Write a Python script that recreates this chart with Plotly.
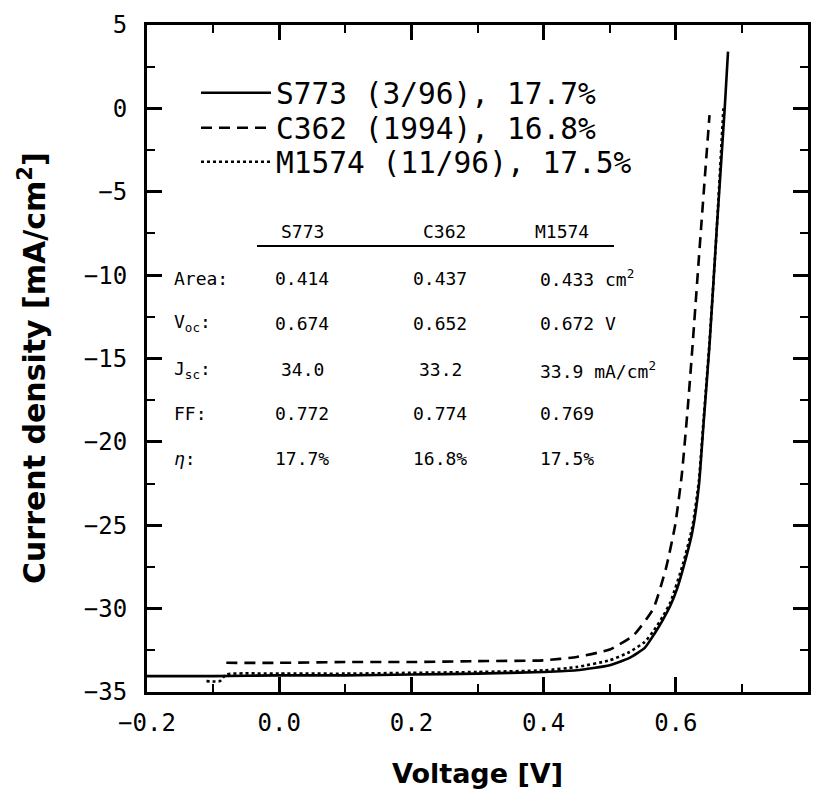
import plotly.graph_objects as go

# ---------------- data ----------------
s773_v = [-0.2, -0.1, 0.0, 0.1, 0.2, 0.3, 0.4, 0.45, 0.5, 0.53, 0.553, 0.567, 0.58, 0.592,
          0.602, 0.611, 0.625, 0.635, 0.642, 0.651, 0.662, 0.674, 0.679]
s773_j = [-34.05, -34.05, -34.0, -34.0, -33.95, -33.9, -33.8, -33.7, -33.4, -32.95, -32.35,
          -31.55, -30.7, -29.8, -28.8, -27.6, -25.4, -22.6, -18.9, -14.2, -7.2, 0.0, 3.4]

c362_v = [-0.08, 0.0, 0.1, 0.2, 0.3, 0.4, 0.45, 0.5, 0.536, 0.566, 0.585, 0.599, 0.609,
          0.618, 0.625, 0.638, 0.651]
c362_j = [-33.25, -33.25, -33.2, -33.2, -33.15, -33.1, -32.9, -32.45, -31.6, -30.0, -27.6,
          -25.0, -22.0, -18.0, -14.4, -7.3, -0.4]

m1574_v = [-0.11, -0.09, -0.08, 0.0, 0.1, 0.2, 0.3, 0.4, 0.45, 0.5, 0.53, 0.553, 0.567,
           0.58, 0.592, 0.611, 0.625, 0.635, 0.642, 0.651, 0.662, 0.672]
m1574_j = [-34.35, -34.35, -33.95, -33.9, -33.9, -33.85, -33.8, -33.7, -33.5, -33.1, -32.6,
           -32.0, -31.3, -30.5, -29.6, -27.3, -25.1, -22.3, -18.7, -14.0, -7.2, 0.0]

series_names = ["S773 (3/96), 17.7%", "C362 (1994), 16.8%", "M1574 (11/96), 17.5%"]

x_tickvals = [-0.2, 0.0, 0.2, 0.4, 0.6, 0.8]
x_ticktext = ["\u22120.2", "0.0", "0.2", "0.4", "0.6", "0.8"]
y_tickvals = [5, 0, -5, -10, -15, -20, -25, -30, -35]
y_ticktext = ["5", "0", "\u22125", "\u221210", "\u221215", "\u221220", "\u221225", "\u221230", "\u221235"]

table_cols = ["S773", "C362", "M1574"]
table_rows = ["Area:", "V<sub>oc</sub>:", "J<sub>sc</sub>:", "FF:", "<i>\u03b7</i>:"]
table_vals = [
    ["0.414", "0.437", "0.433 cm<sup>2</sup>"],
    ["0.674", "0.652", "0.672 V"],
    ["34.0", "33.2", "33.9 mA/cm<sup>2</sup>"],
    ["0.772", "0.774", "0.769"],
    ["17.7%", "16.8%", "17.5%"],
]

# ---------------- layout helpers ----------------
W_FIG, H_FIG = 828, 800
L, R, T, B = 147, 808, 25, 692
PW, PH = R - L, B - T


def px(x):
    return (x - L) / PW


def py(y):
    return (B - y) / PH


MONO = "DejaVu Sans Mono"
BOLD = "DejaVu Sans"

fig = go.Figure()
fig.add_trace(go.Scatter(x=s773_v, y=s773_j, mode="lines", name=series_names[0], legend="legend",
                         line=dict(color="black", width=2.6, dash="solid", shape="spline", smoothing=0.5)))
fig.add_trace(go.Scatter(x=c362_v, y=c362_j, mode="lines", name=series_names[1], legend="legend2",
                         line=dict(color="black", width=2.6, dash="11px,7px", shape="spline", smoothing=0.5)))
fig.add_trace(go.Scatter(x=m1574_v, y=m1574_j, mode="lines", name=series_names[2], legend="legend3",
                         line=dict(color="black", width=2.6, dash="3px,3px", shape="spline", smoothing=0.5)))

axis_common = dict(
    showline=True, linecolor="black", linewidth=3, mirror="ticks",
    ticks="inside", ticklen=15, tickwidth=2.5, tickcolor="black",
    showgrid=False, zeroline=False,
    tickfont=dict(family=MONO, size=24, color="black"),
)
fig.update_xaxes(range=[-0.2, 0.8], tickvals=x_tickvals, ticktext=x_ticktext,
                 minor=dict(dtick=0.1, ticks="inside", ticklen=8, tickwidth=2, tickcolor="black"),
                 ticklabelstandoff=7, **axis_common)
fig.update_yaxes(range=[-35, 5], tickvals=y_tickvals, ticktext=y_ticktext,
                 minor=dict(dtick=2.5, ticks="inside", ticklen=8, tickwidth=2, tickcolor="black"),
                 ticklabelstandoff=12, **axis_common)

annotations = [
    dict(text="<b>Voltage [V]</b>", x=0.5, y=py(773), xref="paper", yref="paper",
         showarrow=False, xanchor="center", yanchor="middle",
         font=dict(family=BOLD, size=27, color="black")),
    dict(text="<b>Current density [mA/cm<sup>2</sup>]</b>", x=px(33), y=py(368),
         xref="paper", yref="paper", showarrow=False, textangle=-90,
         xanchor="center", yanchor="middle",
         font=dict(family=BOLD, size=30, color="black")),
]

col_x = [302, 440, 538]
col_anchor = ["center", "center", "left"]
hdr_x = [302, 444, 533]
hdr_anchor = ["center", "center", "left"]
row_y = [278, 323, 370, 413, 458]
hdr_y = 232
tfont = dict(family=MONO, size=18, color="black")

for name, hx, ha in zip(table_cols, hdr_x, hdr_anchor):
    annotations.append(dict(text=name, x=px(hx), y=py(hdr_y), xref="paper", yref="paper",
                            showarrow=False, xanchor=ha, yanchor="middle", font=tfont))
for lab, ry, vals in zip(table_rows, row_y, table_vals):
    annotations.append(dict(text=lab, x=px(172), y=py(ry), xref="paper", yref="paper",
                            showarrow=False, xanchor="left", yanchor="middle", font=tfont))
    for v, cx, ca in zip(vals, col_x, col_anchor):
        annotations.append(dict(text=v, x=px(cx), y=py(ry), xref="paper", yref="paper",
                                showarrow=False, xanchor=ca, yanchor="middle", font=tfont))

shapes = [dict(type="line", xref="paper", yref="paper", x0=px(257), x1=px(614),
               y0=py(246), y1=py(246), line=dict(color="black", width=2))]

legend_rows_y = [93, 128, 162]
leg_common = dict(x=px(196), xanchor="left", yanchor="middle",
                  bgcolor="rgba(0,0,0,0)", borderwidth=0,
                  font=dict(family=MONO, size=29.5, color="black"),
                  itemwidth=70)

fig.update_layout(
    width=W_FIG, height=H_FIG,
    margin=dict(l=L, r=W_FIG - R, t=T, b=H_FIG - B),
    paper_bgcolor="white", plot_bgcolor="white",
    showlegend=True,
    legend=dict(y=py(legend_rows_y[0]), **leg_common),
    legend2=dict(y=py(legend_rows_y[1]), **leg_common),
    legend3=dict(y=py(legend_rows_y[2]), **leg_common),
    annotations=annotations, shapes=shapes,
)

fig.write_html("out.html")
